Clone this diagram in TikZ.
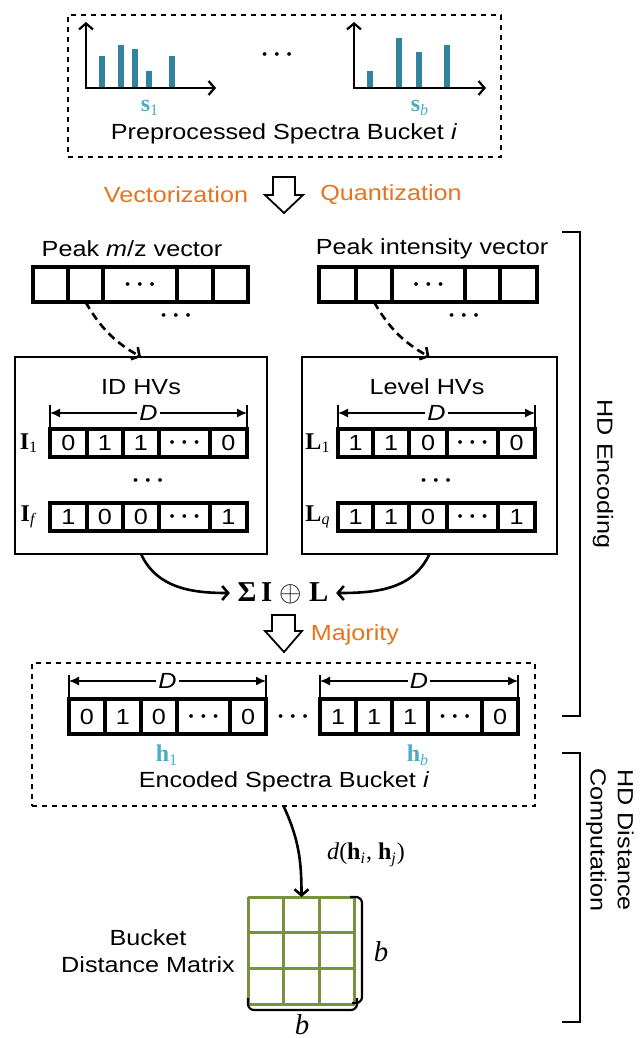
\documentclass[tikz,border=0pt,11pt]{standalone}
\usepackage{fontspec}
\setmainfont{Liberation Sans}[FakeStretch=1.15]
\newfontfamily\tnr{Liberation Serif}
\usetikzlibrary{arrows.meta,fit,calc}

\definecolor{bktorange}{HTML}{E8731E}
\definecolor{bkteal}{HTML}{31849B}
\definecolor{bklight}{HTML}{4BACC6}
\definecolor{bkgreen}{HTML}{77933C}
\newcommand\cdts{{\large\boldmath$\cdots$}}

\begin{document}
\begin{tikzpicture}[x=0.5pt, y=-0.5pt,
  cell/.style={draw, line width=1.6pt, inner sep=0pt, outer sep=0pt},
  hvbox/.style={draw, line width=1.2pt, inner sep=0pt, outer sep=0pt},
  bucket/.style={draw, line width=1.3pt, dash pattern=on 2.6pt off 2.4pt, inner sep=0pt, outer sep=0pt},
  dimline/.style={line width=0.7pt, {Latex[length=5pt,width=4.5pt]}-{Latex[length=5pt,width=4.5pt]}},
  dimtick/.style={line width=0.8pt},
  dimlabel/.style={fill=white, inner sep=1pt, font=\itshape},
  flow/.style={line width=1.3pt, -{Straight Barb[length=3pt,width=7pt]}},
  axis/.style={line width=1.1pt, {Straight Barb[length=3pt,width=7pt]}-{Straight Barb[length=3pt,width=7pt]}},
  hollow/.style={draw, line width=0.9pt, fill=white},
  orangetxt/.style={text=bktorange},
  vecname/.style={font=\tnr\large, text=bklight},
  hvname/.style={font=\tnr\large},
  bracket/.style={line width=1.1pt}
]
\useasboundingbox (0,0) rectangle (643,1038);

% Preprocessed spectra bucket
\node[bucket, fit={(68,15) (501,157)}] (prebox) {};
\draw[axis] (86,22) -- (86,88) -- (216,88);
\foreach \bx/\by in {102/56, 121/45, 135/49, 149/71, 172/56}
  \fill[bkteal] (\bx-2.7,\by) rectangle (\bx+2.7,87);
\draw[axis] (354,22) -- (354,88) -- (486,88);
\foreach \bx/\by in {370/71, 399/38, 419/52, 447/45}
  \fill[bkteal] (\bx-2.7,\by) rectangle (\bx+2.7,87);
\node (sdots) at (277,55) {\cdts};
\node[vecname] (s1) at (150,108) {\textbf{s}\textsubscript{1}};
\node[vecname] (sb) at (420,108) {\textbf{s}\textsubscript{\textit{b}}};
\node (pretxt) at (284,134) {Preprocessed Spectra Bucket \textit{i}};

% Vectorization / Quantization
\draw[hollow] (273,177) -- (295,177) -- (295,195) -- (303,195) -- (284,213) -- (265,195) -- (273,195) -- cycle;
\node[orangetxt] (vectxt) at (176,195) {Vectorization};
\node[orangetxt] (quatxt) at (391,195) {Quantization};

% Peak vectors
\node (mztxt) at (132,249) {Peak \textit{m}/z vector};
\foreach \xa/\xb/\v [count=\k] in {33/68/, 68/103/, 103/177/\cdts, 177/213/, 213/248/}
  \node[cell, fit={(\xa,267) (\xb,302)}, label={[inner sep=0pt]center:\v}] (mz\k) {};
\node (mzdots) at (176,316) {\cdts};
\node (intxt) at (432,249) {Peak intensity vector};
\foreach \xa/\xb/\v [count=\k] in {319/356/, 356/392/, 392/465/\cdts, 465/500/, 500/537/}
  \node[cell, fit={(\xa,267) (\xb,302)}, label={[inner sep=0pt]center:\v}] (in\k) {};
\node (indots) at (464,316) {\cdts};

% ID HVs
\node[hvbox, fit={(15,357) (267,554)}] (idbox) {};
\node (idtxt) at (141,387) {ID HVs};
\foreach \xa/\xb/\v [count=\k] in {50/87/0, 87/123/1, 123/159/1, 159/210/\cdts, 210/247/0}
  \node[cell, fit={(\xa,429) (\xb,457)}, label={[inner sep=0pt]center:\v}] (ia\k) {};
\foreach \xa/\xb/\v [count=\k] in {50/87/1, 87/123/0, 123/159/0, 159/210/\cdts, 210/247/1}
  \node[cell, fit={(\xa,503) (\xb,531)}, label={[inner sep=0pt]center:\v}] (ib\k) {};
\draw[dimtick] (ia1.north west) -- ++(0,-24);
\draw[dimtick] (ia5.north east) -- ++(0,-24);
\draw[dimline] ($(ia1.north west)+(0,-16)$) -- node[dimlabel] (idD) {D} ($(ia5.north east)+(0,-16)$);
\node (iddots) at (148,481) {\cdts};
\node[hvname] (i1) at (29,443) {\textbf{I}\textsubscript{1}};
\node[hvname] (iff) at (29,517) {\textbf{I}\textsubscript{\textit{f}}};

% Level HVs
\node[hvbox, fit={(302,357) (557,554)}] (levelbox) {};
\node (levtxt) at (427,387) {Level HVs};
\foreach \xa/\xb/\v [count=\k] in {338/373/1, 373/409/1, 409/447/0, 447/498/\cdts, 498/535/0}
  \node[cell, fit={(\xa,429) (\xb,457)}, label={[inner sep=0pt]center:\v}] (la\k) {};
\foreach \xa/\xb/\v [count=\k] in {338/373/1, 373/409/1, 409/447/0, 447/498/\cdts, 498/535/1}
  \node[cell, fit={(\xa,503) (\xb,531)}, label={[inner sep=0pt]center:\v}] (lb\k) {};
\draw[dimtick] (la1.north west) -- ++(0,-24);
\draw[dimtick] (la5.north east) -- ++(0,-24);
\draw[dimline] ($(la1.north west)+(0,-16)$) -- node[dimlabel] (levD) {D} ($(la5.north east)+(0,-16)$);
\node (levdots) at (436,481) {\cdts};
\node[hvname] (l1) at (318,443) {\textbf{L}\textsubscript{1}};
\node[hvname] (lq) at (318,517) {\textbf{L}\textsubscript{\textit{q}}};

\draw[flow, dash pattern=on 4pt off 2.5pt] (mz2.south) to[bend right=15] (idbox.north);
\draw[flow, dash pattern=on 4pt off 2.5pt] (in2.south) to[bend right=15] (levelbox.north);

% Bundling
\node[font=\tnr\bfseries\Large] (sum) at (283,593) {Σ\,I $\oplus$ L};
\draw[flow] (idbox.south) to[out=-65, in=180] (sum.west);
\draw[flow] (levelbox.south) to[out=-115, in=0] (sum.east);
\draw[hollow] (272,615) -- (295,615) -- (295,631) -- (302,631) -- (284,652) -- (265,631) -- (272,631) -- cycle;
\node[orangetxt] (majtxt) at (355,635) {Majority};

% Encoded spectra bucket
\node[bucket, fit={(32,663) (535,806)}] (encbox) {};
\foreach \xa/\xb/\v [count=\k] in {69/105/0, 105/141/1, 141/177/0, 177/230/\cdts, 230/266/0}
  \node[cell, fit={(\xa,699) (\xb,734)}, label={[inner sep=0pt]center:\v}] (ha\k) {};
\foreach \xa/\xb/\v [count=\k] in {320/356/1, 356/392/1, 392/428/1, 428/482/\cdts, 482/518/0}
  \node[cell, fit={(\xa,699) (\xb,734)}, label={[inner sep=0pt]center:\v}] (hb\k) {};
\draw[dimtick] (ha1.north west) -- ++(0,-24);
\draw[dimtick] (ha5.north east) -- ++(0,-24);
\draw[dimline] ($(ha1.north west)+(0,-18)$) -- node[dimlabel] (haD) {D} ($(ha5.north east)+(0,-18)$);
\draw[dimtick] (hb1.north west) -- ++(0,-24);
\draw[dimtick] (hb5.north east) -- ++(0,-24);
\draw[dimline] ($(hb1.north west)+(0,-18)$) -- node[dimlabel] (hbD) {D} ($(hb5.north east)+(0,-18)$);
\node (hdots) at (293,717) {\cdts};
\node[vecname] (h1) at (167,755) {\textbf{h}\textsubscript{1}};
\node[vecname] (hb) at (418,755) {\textbf{h}\textsubscript{\textit{b}}};
\node (enctxt) at (284,782) {Encoded Spectra Bucket \textit{i}};

% Distance matrix
\node[inner sep=0pt, outer sep=0pt, fit={(248,897) (355,1003)}] (distmat) {};
\foreach \t in {0, 35.67, 71.33, 106.99} {
  \draw[bkgreen, line width=1.5pt] (248+\t,897) -- (248+\t,1003);
  \draw[bkgreen, line width=1.5pt] (248,897+\t) -- (355,897+\t);
}
\draw[flow] (encbox.south) to[out=-65, in=90] (distmat.north);
\node[font=\tnr\large] (dist) at (366,855) {\textit{d}(\textbf{h}\textsubscript{\textit{i}}, \textbf{h}\textsubscript{\textit{j}})};
\draw[bracket, rounded corners=3pt] (350,897) -- (362,897) -- (362,1003) -- (352,1003);
\draw[bracket, rounded corners=3pt] (248,998) -- (248,1010) -- (357,1010) -- (357,998);
\node[font=\tnr\itshape\Large] (brow) at (381,952) {b};
\node[font=\tnr\itshape\Large, inner sep=0pt, anchor=base] (bcol) at (302,1034) {b};
\node[align=center] (dmtxt) at (148,951) {Bucket\\Distance Matrix};

% Stage brackets
\draw[bracket] (562,232) -- (580,232) -- (580,716) -- (562,716);
\node[rotate=-90] (enclab) at (603,474) {HD Encoding};
\draw[bracket] (562,753) -- (580,753) -- (580,1022) -- (562,1022);
\node[rotate=-90, align=center] (distlab) at (610,840) {HD Distance\\Computation};
\end{tikzpicture}
\end{document}
